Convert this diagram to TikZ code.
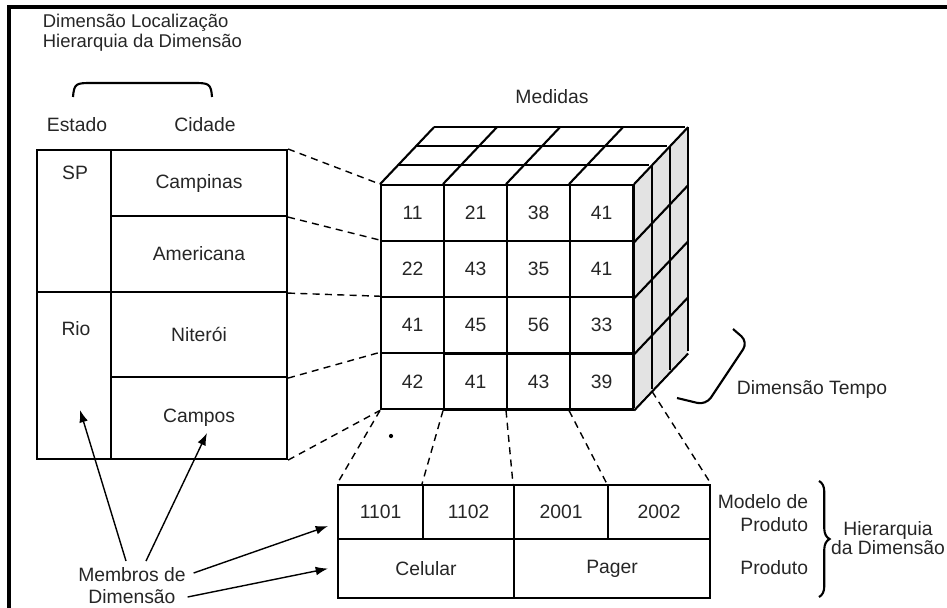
\documentclass[tikz,border=0pt]{standalone}
\usepackage{fontspec}
\setmainfont{Liberation Sans}
\usetikzlibrary{matrix,positioning,calc,decorations.pathreplacing,arrows.meta}

\begin{document}
\begin{tikzpicture}[x=0.02cm,y=-0.02cm,line width=1.2pt,
  font=\fontsize{11}{12.5}\selectfont,text=black!85,
  tbl/.style n args={2}{draw,inner sep=0pt,anchor=north west,
    minimum width=#1,minimum height=#2},
  cmat/.style={matrix of nodes,inner sep=0pt,anchor=north west,
    column sep=-\pgflinewidth,row sep=-\pgflinewidth,
    nodes={draw,inner sep=0pt,minimum width=1.26cm,minimum height=1.12cm}},
  ligacao/.style={line width=0.8pt,dash pattern=on 4pt off 3pt},
  seta/.style={-{Latex[length=7pt,width=5pt]},line width=0.8pt}]

  \useasboundingbox (0,0) rectangle (947,608);
  \draw[line width=2pt] (9,608) -- (9,7) -- (947,7);

  % location dimension
  \node[align=left,anchor=west,font=\fontsize{10.5}{11.4}\selectfont] (titulo) at (36,33)
    {Dimensão Localização\\Hierarquia da Dimensão};
  \draw (73,97) .. controls (74,84) and (76,83) .. (90,83) -- (195,83)
    .. controls (209,83) and (211,84) .. (212,97);
  \node (estado) at (77,125) {Estado};
  \node (cidade) at (205,125) {Cidade};

  \node[tbl={1.48cm}{2.84cm}] (sp) at (36,149) {};
  \node[tbl={1.48cm}{3.34cm}] (rio) at (36,291) {};
  \node[tbl={3.52cm}{1.32cm}] (campinas) at (110,149) {Campinas};
  \node[tbl={3.52cm}{1.52cm}] (americana) at (110,215) {Americana};
  \node[tbl={3.52cm}{1.70cm}] (niteroi) at (110,291) {Niterói};
  \node[tbl={3.52cm}{1.64cm}] (campos) at (110,376) {Campos};
  \node (sptxt) at (75,173) {SP};
  \node (riotxt) at (76,329) {Rio};

  % the cube
  \matrix[cmat] (cube) at (379,183) {
    11 & 21 & 38 & 41\\
    22 & 43 & 35 & 41\\
    41 & 45 & 56 & 33\\
    42 & 41 & 43 & 39\\};
  \node (medidas) at (552,97) {Medidas};

  \fill[gray!22] (cube-1-4.north east) -- ++(54,-57) -- ++(0,224)
    -- ++(-54,57) -- cycle;
  \foreach \k in {1,2,3}
    \draw ($(cube-1-1.north west)+(18*\k,-19*\k)$) -- ++(251,0);
  \foreach \j in {1,...,4}
    \draw (cube-1-\j.north west) -- ++(54,-57);
  \draw (cube-1-4.north east) -- ++(54,-57);
  \foreach \k in {0,...,3}
    \draw ($(cube-1-4.north east)+(18*\k,-19*\k)$) -- ++(0,224);
  \foreach \i in {1,...,4}
    \draw (cube-\i-4.south east) -- ++(54,-57);

  \draw[rounded corners=5pt] (733,329) -- (748,342) -- (706,405) -- (677,398);
  \node (tempo) at (812,390) {Dimensão Tempo};

  \draw[ligacao] (campinas.north east) -- (cube-1-1.north west)
    (campinas.south east) -- (cube-2-1.north west)
    (americana.south east) -- (cube-3-1.north west)
    (niteroi.south east) -- (cube-4-1.north west)
    (campos.south east) -- (cube-4-1.south west);

  % product dimension
  \node[tbl={1.70cm}{1.08cm}] (p1101) at (337,484) {1101};
  \node[tbl={1.82cm}{1.08cm}] (p1102) at (422,484) {1102};
  \node[tbl={1.88cm}{1.08cm}] (p2001) at (513,484) {2001};
  \node[tbl={2.04cm}{1.08cm}] (p2002) at (607,484) {2002};
  \node[tbl={3.52cm}{1.18cm}] (celular) at (337,538) {Celular};
  \node[tbl={3.92cm}{1.18cm}] (pager) at (513,538) {Pager};

  \coordinate (fundo) at ($(cube-4-4.south east)+(18,-19)$);
  \draw[ligacao] (cube-4-1.south west) -- (p1101.north west)
    (cube-4-2.south west) -- (p1102.north west)
    (cube-4-3.south west) -- (p2001.north west)
    (cube-4-4.south west) -- (p2002.north west)
    (fundo) -- (p2002.north east);
  \fill (391,436) circle (1.2pt);

  \node[align=right,anchor=east,font=\fontsize{11}{13}\selectfont] (modelo) at (815,513)
    {Modelo de\\Produto};
  \node[anchor=east] (produto) at (815,568) {Produto};
  \draw[decorate,decoration={brace,amplitude=6pt}] (819,481) -- (819,597);
  \node[align=center,font=\fontsize{11}{10.8}\selectfont] (hier) at (888,538)
    {Hierarquia\\da Dimensão};

  % members
  \node[align=center] (membros) at (132,586) {Membros de\\Dimensão};
  \coordinate (alvorio) at (80,410);
  \coordinate (alvocampos) at (207,433);
  \draw[seta] ($(membros.north)+(-6,0)$) -- (alvorio);
  \draw[seta] ($(membros.north)+(14,0)$) -- (alvocampos);
  \draw[seta] ($(membros.east)+(1,-13)$) -- ($(p1101.west)+(-9,14)$);
  \draw[seta] ($(membros.east)+(-5,11)$) -- ($(celular.west)+(-9,0)$);
\end{tikzpicture}
\end{document}
